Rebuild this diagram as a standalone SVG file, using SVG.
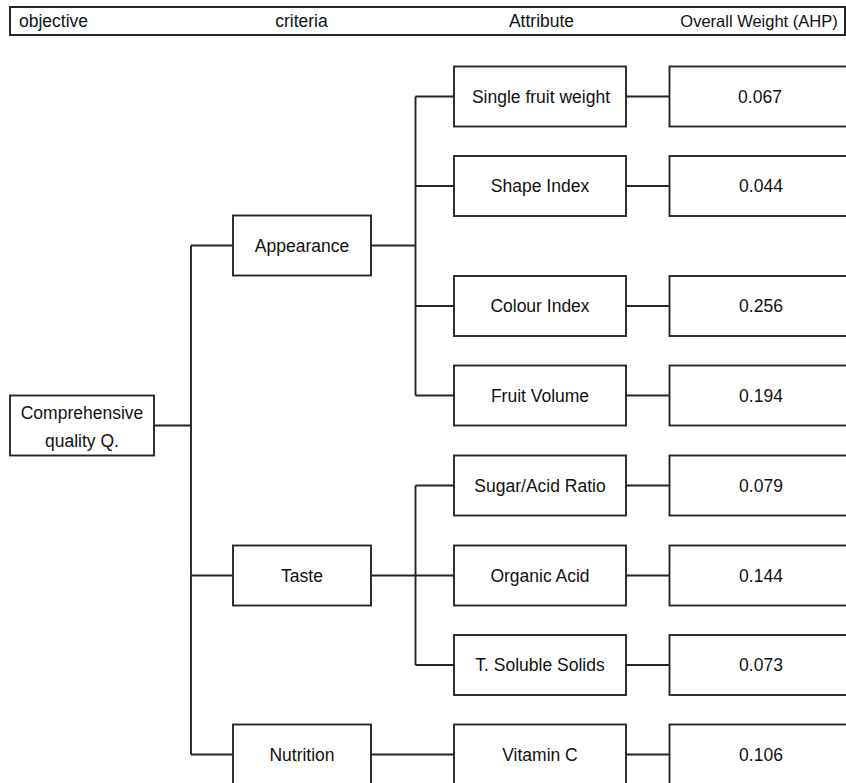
<svg xmlns="http://www.w3.org/2000/svg" width="846" height="783" viewBox="0 0 846 783">
<style>
.box{fill:#fff;stroke:#262626;stroke-width:1.9}
.hdr{fill:#fff;stroke:#262626;stroke-width:2}
.t{font-family:"Liberation Sans",Arial,sans-serif;font-size:17.5px;fill:#111;text-anchor:middle}
.ts{font-family:"Liberation Sans",Arial,sans-serif;font-size:17.5px;fill:#111}
.c{fill:none;stroke:#262626;stroke-width:1.9}
</style>
<rect x="0" y="0" width="846" height="783" fill="#fff"/>
<g id="header">
<rect class="hdr" x="10" y="7" width="835" height="28"/>
<text class="ts" x="19" y="27">objective</text>
<text class="t" x="301.5" y="27">criteria</text>
<text class="t" x="541.5" y="27">Attribute</text>
<text class="t" x="759" y="27" style="font-size:16.5px">Overall Weight (AHP)</text>
</g>
<g id="connectors">
<path class="c" d="M154 425.5H191M191 245.5V754.5M191 245.5H233M191 575.5H233M191 754.5H233"/>
<path class="c" d="M371 245.5H415.5M415.5 96.5V395.5M415.5 96.5H454M415.5 186H454M415.5 306H454M415.5 395.5H454"/>
<path class="c" d="M371 575.5H454M415.5 485.5V665M415.5 485.5H454M415.5 665H454"/>
<path class="c" d="M371 754.5H454"/>
<path class="c" d="M626 96.5H669.5M626 186H669.5M626 306H669.5M626 395.5H669.5M626 485.5H669.5M626 575.5H669.5M626 665H669.5M626 754.5H669.5"/>
</g>
<g id="n-comprehensive">
<rect class="box" x="10" y="395.5" width="144" height="60"/>
<text class="t" x="82" y="419">Comprehensive</text>
<text class="t" x="82" y="447">quality Q.</text>
</g>
<g id="n-appearance">
<rect class="box" x="233" y="215.5" width="138" height="60"/>
<text class="t" x="302" y="251.5">Appearance</text>
</g>
<g id="n-taste">
<rect class="box" x="233" y="545.5" width="138" height="60"/>
<text class="t" x="302" y="581.5">Taste</text>
</g>
<g id="n-nutrition">
<rect class="box" x="233" y="724.5" width="138" height="60"/>
<text class="t" x="302" y="760.5">Nutrition</text>
</g>
<g id="a-single">
<rect class="box" x="454" y="66.5" width="172" height="60"/>
<text class="t" x="541" y="102.5">Single fruit weight</text>
</g>
<g id="a-shape">
<rect class="box" x="454" y="156" width="172" height="60"/>
<text class="t" x="540" y="192">Shape Index</text>
</g>
<g id="a-colour">
<rect class="box" x="454" y="276" width="172" height="60"/>
<text class="t" x="540" y="312">Colour Index</text>
</g>
<g id="a-volume">
<rect class="box" x="454" y="365.5" width="172" height="60"/>
<text class="t" x="540" y="401.5">Fruit Volume</text>
</g>
<g id="a-sugar">
<rect class="box" x="454" y="455.5" width="172" height="60"/>
<text class="t" x="540" y="491.5">Sugar/Acid Ratio</text>
</g>
<g id="a-organic">
<rect class="box" x="454" y="545.5" width="172" height="60"/>
<text class="t" x="540" y="581.5">Organic Acid</text>
</g>
<g id="a-tss">
<rect class="box" x="454" y="635" width="172" height="60"/>
<text class="t" x="540" y="671">T. Soluble Solids</text>
</g>
<g id="a-vitc">
<rect class="box" x="454" y="724.5" width="172" height="60"/>
<text class="t" x="540" y="760.5">Vitamin C</text>
</g>
<g id="w-1">
<rect class="box" x="669.5" y="66.5" width="185" height="60"/>
<text class="t" x="760" y="102.5">0.067</text>
</g>
<g id="w-2">
<rect class="box" x="669.5" y="156" width="185" height="60"/>
<text class="t" x="761" y="192">0.044</text>
</g>
<g id="w-3">
<rect class="box" x="669.5" y="276" width="185" height="60"/>
<text class="t" x="761" y="312">0.256</text>
</g>
<g id="w-4">
<rect class="box" x="669.5" y="365.5" width="185" height="60"/>
<text class="t" x="761" y="401.5">0.194</text>
</g>
<g id="w-5">
<rect class="box" x="669.5" y="455.5" width="185" height="60"/>
<text class="t" x="761" y="491.5">0.079</text>
</g>
<g id="w-6">
<rect class="box" x="669.5" y="545.5" width="185" height="60"/>
<text class="t" x="761" y="581.5">0.144</text>
</g>
<g id="w-7">
<rect class="box" x="669.5" y="635" width="185" height="60"/>
<text class="t" x="761" y="671">0.073</text>
</g>
<g id="w-8">
<rect class="box" x="669.5" y="724.5" width="185" height="60"/>
<text class="t" x="761" y="760.5">0.106</text>
</g>
</svg>
